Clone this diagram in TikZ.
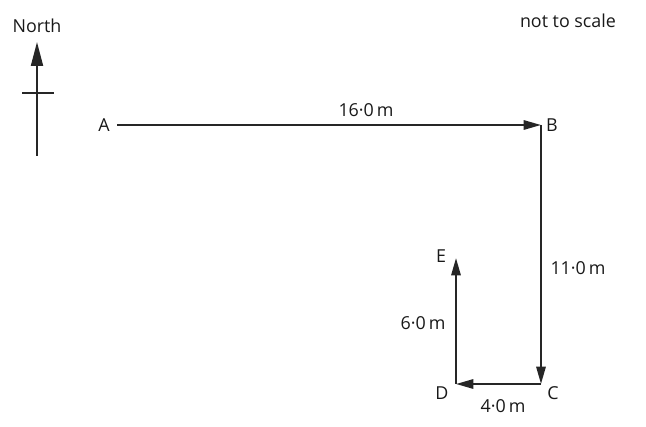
\documentclass[tikz,border=0pt]{standalone}
\usepackage{fontspec}
\setmainfont{Open Sans}
\usetikzlibrary{arrows.meta}

\begin{document}
\begin{tikzpicture}[x=0.75pt, y=-0.75pt, line width=1.5pt]

   \tikzstyle{leg}=[draw=black!85, -{Triangle[length=13pt, width=7pt]}]
   \tikzstyle{lbl}=[text=black!90, font=\fontsize{13.4}{15}\selectfont, inner sep=0pt]

   \useasboundingbox (0,0) rectangle (646,427);

   % corners of the route
   \coordinate (a) at (117,125);
   \coordinate (b) at (541,125);
   \coordinate (c) at (541,384);
   \coordinate (d) at (456,384);
   \coordinate (e) at (456,258);

   % north sign
   \coordinate (ns) at (37,156);
   \coordinate (nn) at (37,42);
   \coordinate (nw) at (22,93);
   \coordinate (ne) at (54,93);

   \node[lbl] (north) at (37,26) {North};
   \node[lbl] (scale) at (568,21) {not to scale};

   \node[lbl] (la) at (104,125) {A};
   \node[lbl] (lb) at (552,125) {B};
   \node[lbl] (lc) at (553,393) {C};
   \node[lbl] (ld) at (442,393) {D};
   \node[lbl] (le) at (441,256) {E};

   \node[lbl] (ab) at (366,110) {16·0\,m};
   \node[lbl] (bc) at (578,268) {11·0\,m};
   \node[lbl] (cd) at (503,406) {4·0\,m};
   \node[lbl] (de) at (423,323) {6·0\,m};

   \draw[leg, -{Triangle[length=18pt, width=9pt]}] (ns) -- (nn);
   \draw[draw=black!85] (nw) -- (ne);

   \draw[leg] (a) -- (b);
   \draw[leg] (b) -- (c);
   \draw[leg] (c) -- (d);
   \draw[leg] (d) -- (e);
\end{tikzpicture}
\end{document}
